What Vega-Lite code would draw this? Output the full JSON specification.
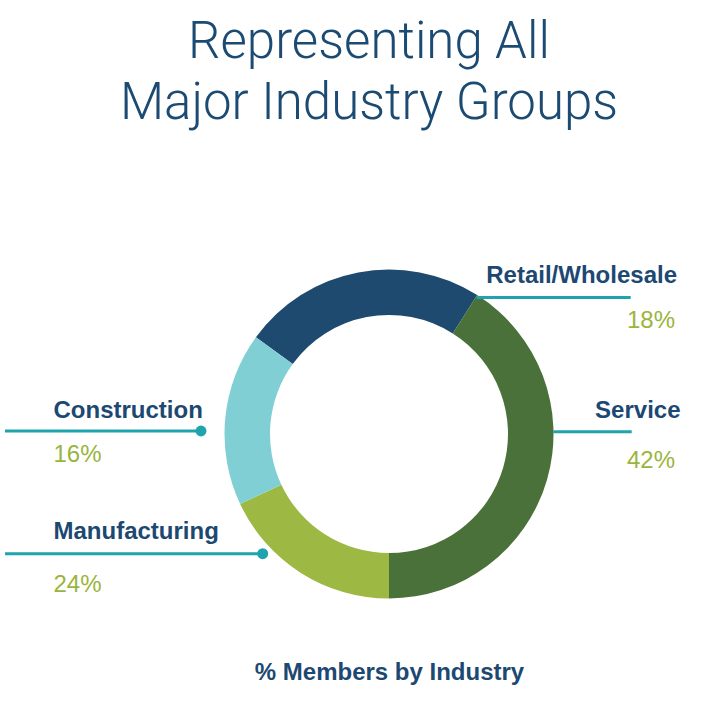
{
  "$schema": "https://vega.github.io/schema/vega-lite/v6.json",
  "width": 778,
  "height": 422,
  "autosize": {"type": "none"},
  "padding": {"left": 0, "top": 223, "right": 0, "bottom": 75},
  "background": "white",
  "config": {"view": {"stroke": null}},
  "title": {
    "text": ["Representing All", "Major Industry Groups"],
    "orient": "top",
    "anchor": "middle",
    "frame": "group",
    "dx": -20,
    "offset": 53,
    "baseline": "alphabetic",
    "fontSize": 51,
    "lineHeight": 61,
    "font": "Roboto",
    "fontWeight": 300,
    "color": "#1b4a72"
  },
  "data": {
    "values": [
      {"industry": "Retail/Wholesale", "share": 24, "pct": 18, "label": "18%", "rank": 1},
      {"industry": "Service", "share": 41, "pct": 42, "label": "42%", "rank": 2},
      {"industry": "Manufacturing", "share": 18, "pct": 24, "label": "24%", "rank": 3},
      {"industry": "Construction", "share": 17, "pct": 16, "label": "16%", "rank": 4}
    ]
  },
  "layer": [
    {
      "mark": {"type": "arc", "outerRadius": 164.5, "innerRadius": 119},
      "encoding": {
        "theta": {"field": "share", "type": "quantitative", "stack": true, "scale": {"range": [-0.94248, 5.34071]}},
        "color": {
          "field": "industry", "type": "nominal",
          "scale": {"domain": ["Retail/Wholesale", "Service", "Manufacturing", "Construction"], "range": ["#1e4a6f", "#4a7139", "#9db843", "#80cfd5"]},
          "legend": null
        },
        "order": {"field": "rank", "type": "quantitative", "sort": "ascending"}
      }
    },
    {
      "transform": [{"filter": {"field": "industry", "oneOf": ["Retail/Wholesale", "Service"]}}],
      "mark": {"type": "tick", "orient": "horizontal", "thickness": 3, "color": "#1fa3ac", "opacity": 1},
      "encoding": {
        "x": {"field": "pct", "type": "quantitative", "scale": {"domain": [18, 42], "range": [553.7, 592.5], "zero": false, "nice": false}, "axis": null},
        "y": {"field": "pct", "type": "quantitative", "scale": {"domain": [18, 42], "range": [74.5, 208.7], "zero": false, "nice": false}, "axis": null},
        "size": {"field": "pct", "type": "quantitative", "scale": {"domain": [18, 42], "range": [154, 78.4], "zero": false}, "legend": null}
      }
    },
    {
      "transform": [{"filter": {"field": "industry", "oneOf": ["Construction", "Manufacturing"]}}],
      "mark": {"type": "tick", "orient": "horizontal", "thickness": 3, "color": "#1fa3ac", "opacity": 1},
      "encoding": {
        "x": {"field": "pct", "type": "quantitative", "scale": {"domain": [16, 24], "range": [103, 133.9], "zero": false, "nice": false}, "axis": null},
        "y": {"field": "pct", "type": "quantitative", "scale": {"domain": [16, 24], "range": [208, 330.7], "zero": false, "nice": false}, "axis": null},
        "size": {"field": "pct", "type": "quantitative", "scale": {"domain": [16, 24], "range": [196, 257.7], "zero": false}, "legend": null}
      }
    },
    {
      "transform": [{"filter": {"field": "industry", "oneOf": ["Construction", "Manufacturing"]}}],
      "mark": {"type": "point", "filled": true, "size": 120, "color": "#1fa3ac", "opacity": 1},
      "encoding": {
        "x": {
          "field": "pct", "type": "quantitative",
          "scale": {"domain": [16, 24], "range": [201, 262.7], "zero": false, "nice": false},
          "axis": {
            "title": "% Members by Industry", "labels": false, "ticks": false, "domain": false, "grid": false,
            "titleFont": "Liberation Sans", "titleFontSize": 24, "titleFontWeight": "bold", "titleColor": "#1c4872",
            "titleX": 389, "titleY": 34, "titleBaseline": "alphabetic", "titleAlign": "center"
          }
        },
        "y": {"field": "pct", "type": "quantitative", "scale": {"domain": [16, 24], "range": [208, 330.7], "zero": false, "nice": false}, "axis": null}
      }
    },
    {
      "transform": [{"filter": {"field": "industry", "oneOf": ["Retail/Wholesale", "Service"]}}],
      "mark": {"type": "text", "align": "right", "baseline": "alphabetic", "font": "Liberation Sans", "fontWeight": "bold", "fontSize": 24, "color": "#1c4872"},
      "encoding": {
        "x": {"field": "pct", "type": "quantitative", "scale": {"domain": [18, 42], "range": [677, 680.5], "zero": false, "nice": false}, "axis": null},
        "y": {"field": "pct", "type": "quantitative", "scale": {"domain": [18, 42], "range": [60.3, 194.7], "zero": false, "nice": false}, "axis": null},
        "text": {"field": "industry", "type": "nominal"}
      }
    },
    {
      "transform": [{"filter": {"field": "industry", "oneOf": ["Construction", "Manufacturing"]}}],
      "mark": {"type": "text", "align": "left", "baseline": "alphabetic", "font": "Liberation Sans", "fontWeight": "bold", "fontSize": 24, "color": "#1c4872"},
      "encoding": {
        "x": {"field": "pct", "type": "quantitative", "scale": {"domain": [16, 24], "range": [53.5, 53.5], "zero": false, "nice": false}, "axis": null},
        "y": {"field": "pct", "type": "quantitative", "scale": {"domain": [16, 24], "range": [194.7, 316], "zero": false, "nice": false}, "axis": null},
        "text": {"field": "industry", "type": "nominal"}
      }
    },
    {
      "transform": [{"filter": {"field": "industry", "oneOf": ["Retail/Wholesale", "Service"]}}],
      "mark": {"type": "text", "align": "right", "baseline": "alphabetic", "font": "Liberation Sans", "fontSize": 24, "color": "#9ab53d"},
      "encoding": {
        "x": {"field": "pct", "type": "quantitative", "scale": {"domain": [18, 42], "range": [675, 675], "zero": false, "nice": false}, "axis": null},
        "y": {"field": "pct", "type": "quantitative", "scale": {"domain": [18, 42], "range": [105.3, 245.3], "zero": false, "nice": false}, "axis": null},
        "text": {"field": "label", "type": "nominal"}
      }
    },
    {
      "transform": [{"filter": {"field": "industry", "oneOf": ["Construction", "Manufacturing"]}}],
      "mark": {"type": "text", "align": "left", "baseline": "alphabetic", "font": "Liberation Sans", "fontSize": 24, "color": "#9ab53d"},
      "encoding": {
        "x": {"field": "pct", "type": "quantitative", "scale": {"domain": [16, 24], "range": [53.5, 53.5], "zero": false, "nice": false}, "axis": null},
        "y": {"field": "pct", "type": "quantitative", "scale": {"domain": [16, 24], "range": [238.7, 369.3], "zero": false, "nice": false}, "axis": null},
        "text": {"field": "label", "type": "nominal"}
      }
    }
  ],
  "resolve": {
    "scale": {"x": "independent", "y": "independent", "size": "independent", "color": "independent"},
    "axis": {"x": "independent", "y": "independent"}
  }
}
